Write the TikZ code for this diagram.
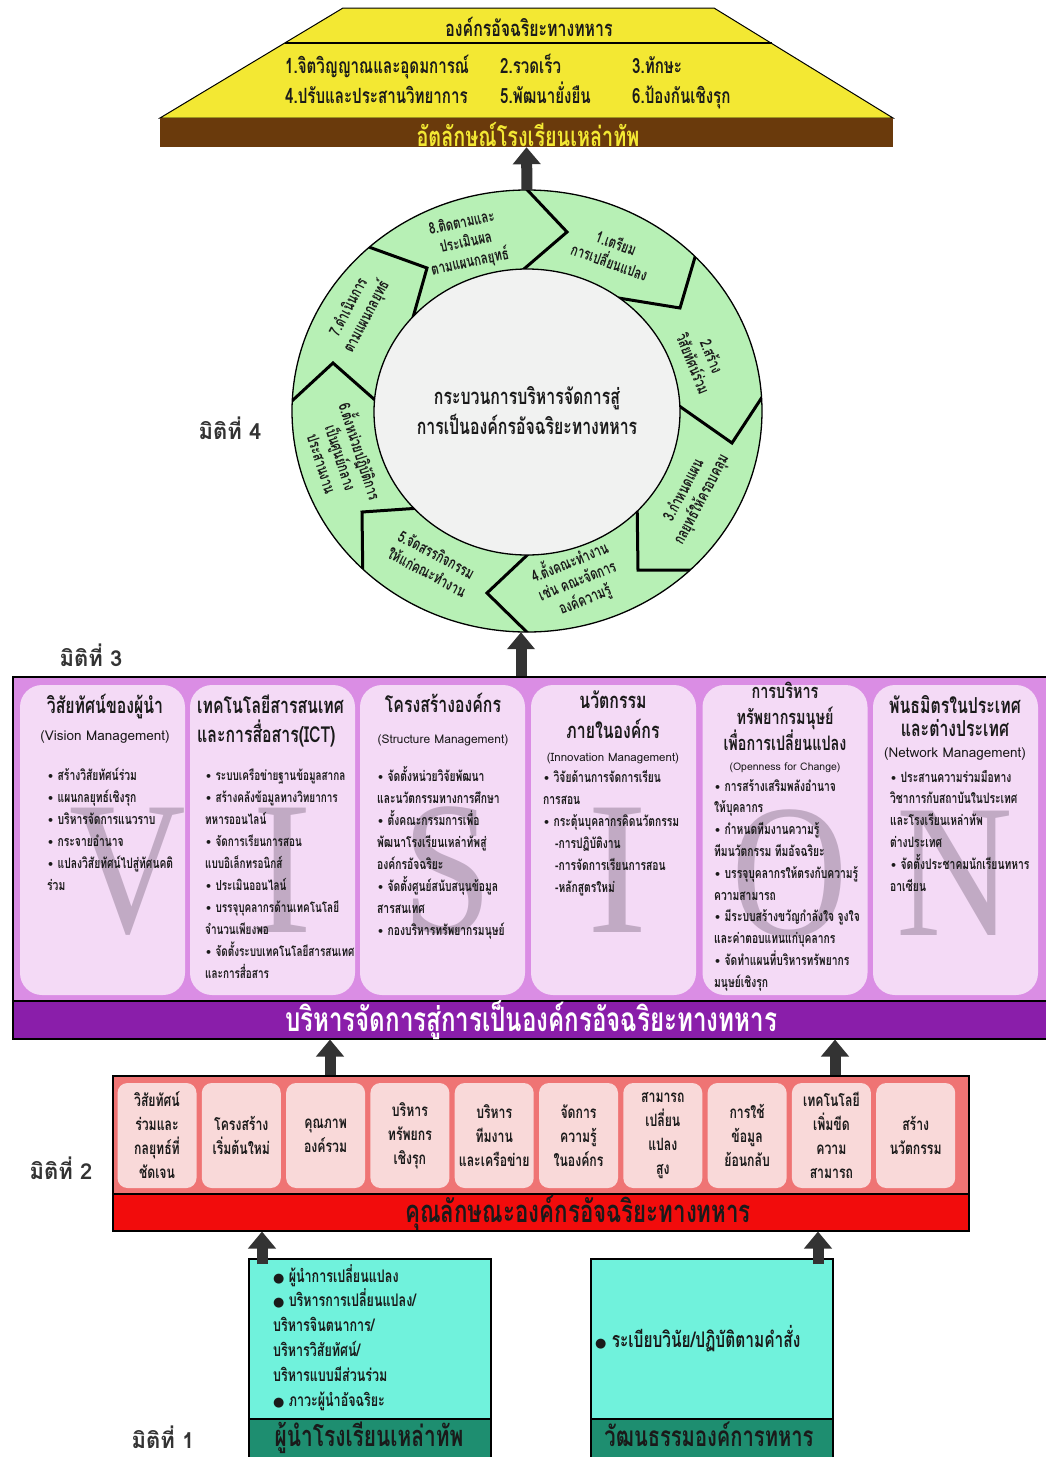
\documentclass[tikz,border=0pt]{standalone}
\usepackage{fontspec}
\usepackage{graphicx}
\setmainfont[Script=Thai,FakeStretch=0.72]{Loma}
\newfontfamily\plainfont[Script=Thai]{Loma}
\newfontfamily\symfont{DejaVu Sans}
\newfontfamily\wmfont{Liberation Serif}
\usetikzlibrary{arrows.meta,shapes.geometric}

\newcommand\fsz[2]{\fontsize{#1}{#2}\selectfont}
\newcommand\bul{{\symfont\fontsize{11}{11}\selectfont\char"2022}\ }
\newcommand\bigdot{{\symfont\fontsize{13}{13}\selectfont\char"25CF}\ }

\definecolor{ink}{HTML}{1A1A1A}
\definecolor{trapyellow}{HTML}{F3E833}
\definecolor{barbrown}{HTML}{6A3A0C}
\definecolor{ringgreen}{HTML}{B7F0B5}
\definecolor{hubgray}{HTML}{F1F2F1}
\definecolor{arrowgray}{HTML}{333333}
\definecolor{visionpurple}{HTML}{DA8DE4}
\definecolor{colpink}{HTML}{F4DAF6}
\definecolor{barpurple}{HTML}{8A1EAA}
\definecolor{watermark}{HTML}{A08AA3}
\definecolor{salmon}{HTML}{EF7474}
\definecolor{cellpink}{HTML}{F9D9D9}
\definecolor{barred}{HTML}{F20C0C}
\definecolor{aqua}{HTML}{70F2DC}
\definecolor{tealbar}{HTML}{1E8E70}

\tikzset{
  bigarrow/.style={draw=arrowgray,line width=11pt,-{Triangle[width=27pt,length=17pt]}},
  chev/.style={line width=3pt,line join=miter},
  dimlabel/.style={anchor=center,inner sep=0pt,font=\plainfont\bfseries\fsz{22}{24},text=arrowgray},
  toptext/.style={anchor=base west,inner sep=0pt,font=\bfseries\fsz{21}{24},text=ink},
  seg/.style={align=center,inner sep=0pt,font=\bfseries\fsz{16}{20},text=ink},
  listline/.style={anchor=base west,inner sep=0pt,text height=10pt,text depth=3pt,
    font=\bfseries\fsz{14.3}{22},text=ink},
  coltitle/.style={anchor=base,inner sep=0pt,text height=14pt,text depth=4pt,font=\bfseries\fsz{22}{24},text=ink},
  colsub/.style={anchor=base,inner sep=0pt,text height=9pt,text depth=3pt,font=\plainfont\fsz{13.5}{14},text=ink},
  column/.style={fill=colpink,rounded corners=22pt,minimum width=165pt,minimum height=310pt,inner sep=0pt},
  wm/.style={anchor=base,inner sep=0pt,text height=125pt,text depth=0pt,text=watermark,opacity=0.6,
    font=\wmfont\fsz{190}{190}},
  cell/.style={fill=cellpink,rounded corners=10pt,minimum width=79pt,minimum height=105pt,inner sep=0pt,
    align=center,font=\bfseries\fsz{17}{24},text=ink},
  bartext/.style={inner sep=0pt,font=\bfseries\fsz{29}{30}},
  foottext/.style={anchor=base,inner sep=0pt,text height=18pt,text depth=1pt,text=ink},
}

\begin{document}
\begin{tikzpicture}[x=1pt,y=-1pt]
\useasboundingbox (0,0) rectangle (1045,1457);
\fill[white] (0,0) rectangle (1045,1457);

% ---------- top: the intelligent military organisation ----------
\draw[fill=trapyellow,line width=1pt] (343,8) -- (714,8) -- (893,118) -- (160,118) -- cycle;
\draw[line width=1.2pt] (285,43) -- (772,43);
\node[anchor=center,inner sep=0pt,font=\bfseries\fsz{22}{24},text=ink] (orgtitle) at (529,27) {องค์กรอัจฉริยะทางทหาร};
\node[toptext] (q1) at (285,73) {1.จิตวิญญาณและอุดมการณ์};
\node[toptext] (q2) at (500,73) {2.รวดเร็ว};
\node[toptext] (q3) at (632,73) {3.ทักษะ};
\node[toptext] (q4) at (285,103) {4.ปรับและประสานวิทยาการ};
\node[toptext] (q5) at (500,103) {5.พัฒนายั่งยืน};
\node[toptext] (q6) at (632,103) {6.ป้องกันเชิงรุก};
\node[fill=barbrown,minimum width=733pt,minimum height=29pt,inner sep=0pt] (identity) at (526.5,132.5) {};
\node[bartext,font=\bfseries\fsz{27.5}{30},text=trapyellow] (identitytext) at (528,134) {อัตลักษณ์โรงเรียนเหล่าทัพ};

% ---------- dimension 4: the eight-step cycle ----------
\node[dimlabel] (d4) at (230,428) {มิติที่ 4};
\node[ellipse,fill=ringgreen,minimum width=470pt,minimum height=442pt,inner sep=0pt] (ring) at (527,411) {};
\begin{scope}
  \clip (527,411) ellipse [x radius=235, y radius=221];
  \draw[chev] (517,179) -- (567,232) -- (510,281);
  \draw[chev] (703,230) -- (680,308) -- (600,295);
  \draw[chev] (772,382) -- (732,443) -- (665,396);
  \draw[chev] (720,570) -- (638,570) -- (637,495);
  \draw[chev] (540,645) -- (487,593) -- (540,543);
  \draw[chev] (363,590) -- (362,512) -- (435,507);
  \draw[chev] (280,412) -- (333,363) -- (392,415);
  \draw[chev] (355,242) -- (427,268) -- (408,335);
\end{scope}
\draw[line width=1.3pt] (527,411) ellipse [x radius=235, y radius=221];
\node[ellipse,fill=hubgray,draw,line width=1.3pt,minimum width=306pt,minimum height=286pt,inner sep=0pt] (hub) at (527,412) {};
\node[align=center,inner sep=0pt,font=\bfseries\fsz{22}{30},text=ink] (hubtext) at (527,411)
  {กระบวนการบริหารจัดการสู่\\การเป็นองค์กรอัจฉริยะทางทหาร};

\node[seg,rotate=-20] (s1) at (613,252) {1.เตรียม\\การเปลี่ยนแปลง};
\node[seg,rotate=-68] (s2) at (703,360) {2.สร้าง\\วิสัยทัศน์ร่วม};
\node[seg,rotate=62]  (s3) at (693,495) {3.กำหนดแผน\\กลยุทธ์ให้ครอบคลุม};
\node[seg,rotate=22]  (s4) at (577,580) {4.ตั้งคณะทำงาน\\เช่น คณะจัดการ\\องค์ความรู้};
\node[seg,rotate=-28] (s5) at (432,563) {5.จัดสรรกิจกรรม\\ให้แก่คณะทำงาน};
\node[seg,rotate=-72] (s6) at (343,457) {6.ตั้งหน่วยปฏิบัติการ\\เป็นศูนย์กลาง\\ประสานงาน};
\node[seg,rotate=62]  (s7) at (358,312) {7.ดำเนินการ\\ตามแผนกลยุทธ์};
\node[seg,rotate=12]  (s8) at (466,243) {8.ติดตามและ\\ประเมินผล\\ตามแผนกลยุทธ์};

\draw[bigarrow] (ring.north) -- (identity.south);

% ---------- dimension 3: VISION ----------
\node[dimlabel] (d3) at (91,655) {มิติที่ 3};
\node[fill=visionpurple,draw,line width=1.5pt,minimum width=1035pt,minimum height=362pt,inner sep=0pt,anchor=north west] (visionbox) at (12,676) {};
\node[fill=barpurple,draw,line width=1.5pt,minimum width=1035pt,minimum height=38pt,inner sep=0pt,anchor=north west] (visionbar) at (12,1000) {};
\node[bartext,font=\bfseries\fsz{33.5}{34},text=white] (visionbartext) at (531,1020) {บริหารจัดการสู่การเป็นองค์กรอัจฉริยะทางทหาร};

\node[column] (col1) at (102.5,840) {};
\node[column] (col2) at (272.5,840) {};
\node[column] (col3) at (442.5,840) {};
\node[column] (col4) at (613.5,840) {};
\node[column] (col5) at (785,840) {};
\node[column] (col6) at (955.5,840) {};

\node[wm] (wmV) at (128,932) {\scalebox{0.85}[1]{V}};
\node[wm] (wmI1) at (283,932) {\scalebox{0.95}[1]{I}};
\node[wm] (wmS) at (447,932) {\scalebox{0.85}[1]{S}};
\node[wm] (wmI2) at (618,932) {\scalebox{0.95}[1]{I}};
\node[wm] (wmO) at (790,935) {\scalebox{0.85}[1]{O}};
\node[wm] (wmN) at (955,935) {\scalebox{0.85}[1]{N}};

% column 1
\node[coltitle] (t1a) at (105,713) {วิสัยทัศน์ของผู้นำ};
\node[colsub] (t1b) at (105,740) {(Vision Management)};
\foreach \t [count=\i from 0] in {{\bul สร้างวิสัยทัศน์ร่วม},{\bul แผนกลยุทธ์เชิงรุก},{\bul บริหารจัดการแนวราบ},
  {\bul กระจายอำนาจ},{\bul แปลงวิสัยทัศน์ไปสู่ทัศนคติ},{ร่วม}}
  \node[listline] (l1-\i) at (47,{780+22*\i}) {\t};

% column 2
\node[coltitle,anchor=base west] (t2a) at (197,713) {เทคโนโลยีสารสนเทศ};
\node[coltitle,anchor=base west] (t2b) at (197,742) {และการสื่อสาร(ICT)};
\foreach \t [count=\i from 0] in {{\bul ระบบเครือข่ายฐานข้อมูลสากล},{\bul สร้างคลังข้อมูลทางวิทยาการ},{ทหารออนไลน์},
  {\bul จัดการเรียนการสอน},{แบบอิเล็กทรอนิกส์},{\bul ประเมินออนไลน์},{\bul บรรจุบุคลากรด้านเทคโนโลยี},
  {จำนวนเพียงพอ},{\bul จัดตั้งระบบเทคโนโลยีสารสนเทศ},{และการสื่อสาร}}
  \node[listline,font=\bfseries\fsz{13.8}{22}] (l2-\i) at (205,{780+22*\i}) {\t};

% column 3
\node[coltitle] (t3a) at (443,712) {โครงสร้างองค์กร};
\node[colsub,font=\plainfont\fsz{12}{14}] (t3b) at (443,743) {(Structure Management)};
\foreach \t [count=\i from 0] in {{\bul จัดตั้งหน่วยวิจัยพัฒนา},{และนวัตกรรมทางการศึกษา},{\bul ตั้งคณะกรรมการเพื่อ},
  {พัฒนาโรงเรียนเหล่าทัพสู่},{องค์กรอัจฉริยะ},{\bul จัดตั้งศูนย์สนับสนุนข้อมูล},{สารสนเทศ},{\bul กองบริหารทรัพยากรมนุษย์}}
  \node[listline] (l3-\i) at (377,{781+22*\i}) {\t};

% column 4
\node[coltitle] (t4a) at (613,708) {นวัตกรรม};
\node[coltitle] (t4b) at (613,738) {ภายในองค์กร};
\node[colsub,font=\plainfont\fsz{11.5}{12}] (t4c) at (613,761) {(Innovation Management)};
\foreach \t [count=\i from 0] in {{\bul วิจัยด้านการจัดการเรียน},{การสอน},{\bul กระตุ้นบุคลากรคิดนวัตกรรม},
  {\hspace*{12pt}-การปฏิบัติงาน},{\hspace*{12pt}-การจัดการเรียนการสอน},{\hspace*{12pt}-หลักสูตรใหม่}}
  \node[listline] (l4-\i) at (543,{782+22*\i}) {\t};

% column 5
\node[coltitle,font=\bfseries\fsz{20}{22}] (t5a) at (785,698) {การบริหาร};
\node[coltitle,font=\bfseries\fsz{20}{22}] (t5b) at (785,724) {ทรัพยากรมนุษย์};
\node[coltitle,font=\bfseries\fsz{20}{22}] (t5c) at (785,750) {เพื่อการเปลี่ยนแปลง};
\node[colsub,font=\plainfont\fsz{10.5}{12}] (t5d) at (785,770) {(Openness for Change)};
\foreach \t [count=\i from 0] in {{\bul การสร้างเสริมพลังอำนาจ},{ให้บุคลากร},{\bul กำหนดทีมงานความรู้},
  {ทีมนวัตกรรม ทีมอัจฉริยะ},{\bul บรรจุบุคลากรให้ตรงกับความรู้},{ความสามารถ},{\bul มีระบบสร้างขวัญกำลังใจ จูงใจ},
  {และค่าตอบแทนแก่บุคลากร},{\bul จัดทำแผนที่บริหารทรัพยากร},{มนุษย์เชิงรุก}}
  \node[listline] (l5-\i) at (714,{791+21.8*\i}) {\t};

% column 6
\node[coltitle] (t6a) at (955,713) {พันธมิตรในประเทศ};
\node[coltitle] (t6b) at (955,736) {และต่างประเทศ};
\node[colsub] (t6c) at (955,757) {(Network Management)};
\foreach \t [count=\i from 0] in {{\bul ประสานความร่วมมือทาง},{วิชาการกับสถาบันในประเทศ},{และโรงเรียนเหล่าทัพ},
  {ต่างประเทศ},{\bul จัดตั้งประชาคมนักเรียนทหาร},{อาเซียน}}
  \node[listline] (l6-\i) at (890,{782+21.8*\i}) {\t};

\draw[bigarrow] (visionbox.north -| 521,0) -- (ring.south -| 521,0);

% ---------- dimension 2: characteristics ----------
\node[dimlabel] (d2) at (61,1168) {มิติที่ 2};
\node[fill=salmon,draw,line width=1.5pt,minimum width=856pt,minimum height=155pt,inner sep=0pt,anchor=north west] (charbox) at (112,1075) {};
\node[fill=barred,draw,line width=1.5pt,minimum width=856pt,minimum height=37pt,inner sep=0pt,anchor=north west] (charbar) at (112,1193) {};
\node[bartext,font=\bfseries\fsz{31}{32},text=ink] (charbartext) at (578,1212.5) {คุณลักษณะองค์กรอัจฉริยะทางทหาร};
\foreach \t [count=\i from 0] in {{วิสัยทัศน์\\ร่วมและ\\กลยุทธ์ที่\\ชัดเจน},{โครงสร้าง\\เริ่มต้นใหม่},{คุณภาพ\\องค์รวม},
  {บริหาร\\ทรัพยกร\\เชิงรุก},{บริหาร\\ทีมงาน\\และเครือข่าย},{จัดการ\\ความรู้\\ในองค์กร},{สามารถ\\เปลี่ยน\\แปลง\\สูง},
  {การใช้\\ข้อมูล\\ย้อนกลับ},{เทคโนโลยี\\เพิ่มขีด\\ความ\\สามารถ},{สร้าง\\นวัตกรรม}}
  \node[cell] (cell-\i) at ({157+84.3*\i},1135.5) {\t};

\draw[bigarrow] (charbox.north -| 330,0) -- (visionbar.south -| 330,0);
\draw[bigarrow] (charbox.north -| 835,0) -- (visionbar.south -| 835,0);

% ---------- dimension 1: leaders and culture ----------
\node[dimlabel] (d1) at (163,1437) {มิติที่ 1};
\node[fill=aqua,draw,line width=1.5pt,minimum width=242pt,minimum height=210pt,inner sep=0pt,anchor=north west] (leaderbox) at (248,1258) {};
\node[fill=tealbar,draw,line width=1.5pt,minimum width=242pt,minimum height=45pt,inner sep=0pt,anchor=north west] (leaderbar) at (248,1418) {};
\node[foottext,font=\bfseries\fsz{29}{30}] (leadertext) at (369,1446) {ผู้นำโรงเรียนเหล่าทัพ};
\node[fill=aqua,draw,line width=1.5pt,minimum width=242pt,minimum height=210pt,inner sep=0pt,anchor=north west] (culturebox) at (590,1258) {};
\node[fill=tealbar,draw,line width=1.5pt,minimum width=242pt,minimum height=45pt,inner sep=0pt,anchor=north west] (culturebar) at (590,1418) {};
\node[foottext,font=\bfseries\fsz{28}{30}] (culturetext) at (709,1446) {วัฒนธรรมองค์การทหาร};
\foreach \t [count=\i from 0] in {{\bigdot ผู้นำการเปลี่ยนแปลง},{\bigdot บริหารการเปลี่ยนแปลง/},{บริหารจินตนาการ/},
  {บริหารวิสัยทัศน์/},{บริหารแบบมีส่วนร่วม},{\bigdot ภาวะผู้นำอัจฉริยะ}}
  \node[listline,font=\bfseries\fsz{17.4}{24}] (ld-\i) at (273,{1282+24.8*\i}) {\t};
\node[listline,font=\bfseries\fsz{21.5}{24}] (cu-0) at (595,1347) {\bigdot ระเบียบวินัย/ปฏิบัติตามคำสั่ง};

\draw[bigarrow] ([yshift=-6pt]leaderbox.north -| 262,0) -- (charbar.south -| 262,0);
\draw[bigarrow] ([yshift=-6pt]culturebox.north -| 818,0) -- (charbar.south -| 818,0);
\end{tikzpicture}
\end{document}
